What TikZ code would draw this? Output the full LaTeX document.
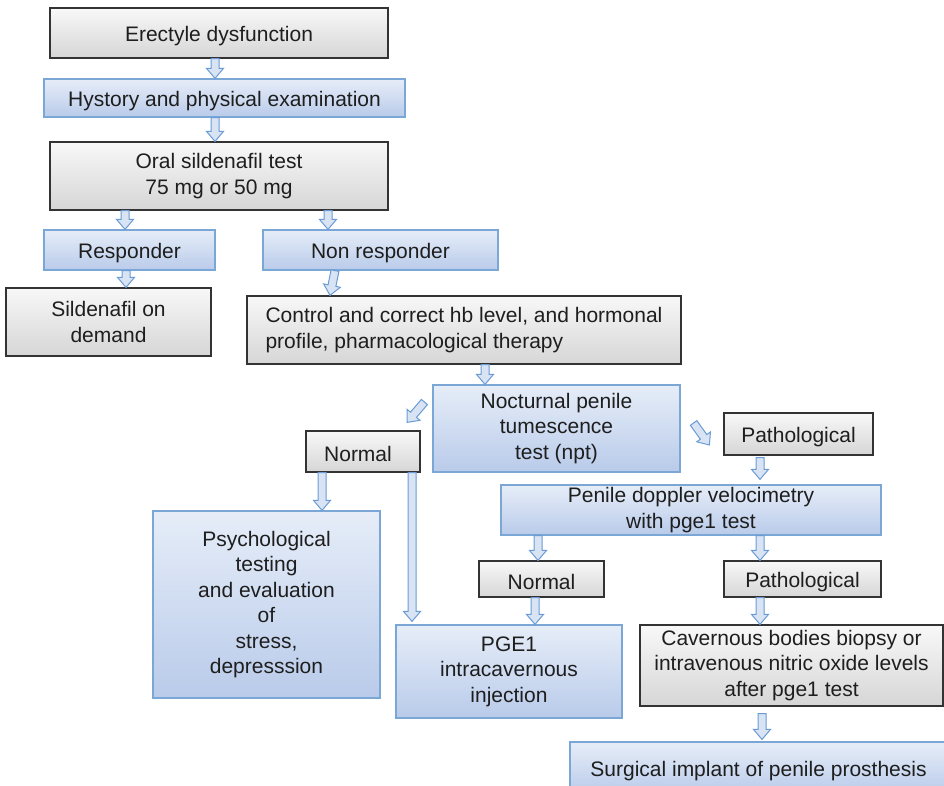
\documentclass[tikz,border=0pt]{standalone}
\usepackage{fontspec}
\setmainfont{Liberation Sans}
\usetikzlibrary{calc}
\definecolor{blueline}{HTML}{7BA7D7}
\definecolor{bluetop}{HTML}{E6EDF8}
\definecolor{bluebot}{HTML}{B9CBEA}
\definecolor{graytop}{HTML}{F8F8F8}
\definecolor{graybot}{HTML}{D6D6D6}
\definecolor{grayline}{HTML}{333333}
\definecolor{arrline}{HTML}{6A9BD5}
\definecolor{arrfill}{HTML}{D8E3F3}
\definecolor{txt}{HTML}{1E1E1E}
\begin{document}
\begin{tikzpicture}[x=1pt, y=-1pt,
            every node/.style={align=center, inner sep=0pt, text=txt,
                font=\fontsize{21}{25.5}\selectfont,
                execute at begin node={\rule{0pt}{20.5pt}}},
            wh/.style 2 args={minimum width=#1pt, minimum height=#2pt},
            graybox/.style={draw=grayline, line width=1.2pt, top color=graytop, bottom color=graybot},
            bluebox/.style={draw=blueline, line width=1.2pt, top color=bluetop, bottom color=bluebot},
            arr/.style={draw=arrline, fill=arrfill, line width=1pt, line join=miter,
                to path={let \p1=(\tikztostart), \p2=(\tikztotarget),
                    \n1={atan2(\y2-\y1,\x2-\x1)}, \n2={veclen(\x2-\x1,\y2-\y1)} in
                    {[shift={(\p1)}, rotate=\n1]
                    (0,4) -- (\n2-10,4) -- (\n2-10,8.5) -- (\n2,0) -- (\n2-10,-8.5)
                    -- (\n2-10,-4) -- (0,-4) -- cycle}}}]
    \clip (0,0) rectangle (944,786);
    \node[graybox, wh={338}{50}] (ed) at (219,33) {Erectyle dysfunction};
    \node[bluebox, wh={361}{38}] (hist) at (224.5,98) {Hystory and physical examination};
    \node[graybox, wh={338}{68}] (oral) at (219,176) {Oral sildenafil test\\75 mg or 50 mg};
    \node[bluebox, wh={171}{40}] (resp) at (129.5,250) {Responder};
    \node[bluebox, wh={235}{40}] (nonresp) at (380.5,250) {Non responder};
    \node[graybox, wh={205}{68}] (sild) at (108.5,322) {Sildenafil on\\demand};
    \node[graybox, wh={434}{68}, align=left] (ctrl) at (464,330)
        {Control and correct hb level, and hormonal\\profile, pharmacological therapy};
    \node[bluebox, wh={247}{87}] (npt) at (556.5,428.5) {Nocturnal penile\\tumescence\\test (npt)};
    \node[graybox, wh={114}{41}] (normA) at (363,451.5) {\hspace*{-10pt}Normal};
    \node[graybox, wh={149}{42}] (pathA) at (798.5,434) {Pathological};
    \node[bluebox, wh={380}{50}] (doppler) at (691,510) {Penile doppler velocimetry\\with pge1 test};
    \node[bluebox, wh={227}{187}, execute at begin node={}] (psych) at (266.5,604.5)
        {Psychological\\testing\\and evaluation\\of\\stress,\\depresssion};
    \node[graybox, wh={125}{36}] (normB) at (541.5,579) {Normal};
    \node[graybox, wh={157}{36}] (pathB) at (802.5,579) {Pathological};
    \node[bluebox, wh={226}{93}, execute at begin node={}] (pge) at (509,671.5) {PGE1\\intracavernous\\injection};
    \node[graybox, wh={303}{81}] (cav) at (791.5,665.5)
        {Cavernous bodies biopsy or\\intravenous nitric oxide levels\\after pge1 test};
    \node[bluebox, wh={377}{52}] (surg) at (758.5,768) {Surgical implant of penile prosthesis};
    \draw[arr] ($(ed.south)+(-4,0)$) to ($(hist.north)+(-9.5,0)$);
    \draw[arr] ($(hist.south)+(-9.5,0)$) to ($(oral.north)+(-4,0)$);
    \draw[arr] ($(oral.south)+(-94,0)$) to ($(resp.north)+(-4.5,0)$);
    \draw[arr] ($(oral.south)+(109,0)$) to ($(nonresp.north)+(-52.5,0)$);
    \draw[arr] ($(resp.south)+(-3.5,0)$) to ($(sild.north)+(17.5,0)$);
    \draw[arr] ($(nonresp.south)+(-45.5,0)$) to ($(ctrl.north)+(-134,0)$);
    \draw[arr] ($(ctrl.south)+(21,0)$) to ($(npt.north)+(-71.5,0)$);
    \draw[arr] ($(npt.west)+(-8,-26.5)$) to ($(normA.north)+(44,-8)$);
    \draw[arr] ($(npt.east)+(13,-5.5)$) to ($(pathA.west)+(-14,11)$);
    \draw[arr] ($(pathA.south)+(-38.5,2)$) to ($(doppler.north)+(69,-5)$);
    \draw[arr] ($(normA.south)+(-41,0)$) to ($(psych.north)+(55.5,0)$);
    \draw[arr] ($(normA.south)+(49,0)$) to ($(pge.north)+(-97,-3)$);
    \draw[arr] ($(doppler.south)+(-153,0)$) to ($(normB.north)+(-3.5,0)$);
    \draw[arr] ($(normB.south)+(-6.5,0)$) to ($(pge.north)+(26,0)$);
    \draw[arr] ($(doppler.south)+(69,0)$) to ($(pathB.north)+(-42.5,0)$);
    \draw[arr] ($(pathB.south)+(-42.5,0)$) to ($(cav.north)+(-31.5,0)$);
    \draw[arr] ($(cav.south)+(-29.5,7)$) to ($(surg.north)+(3.5,-2)$);
\end{tikzpicture}
\end{document}
